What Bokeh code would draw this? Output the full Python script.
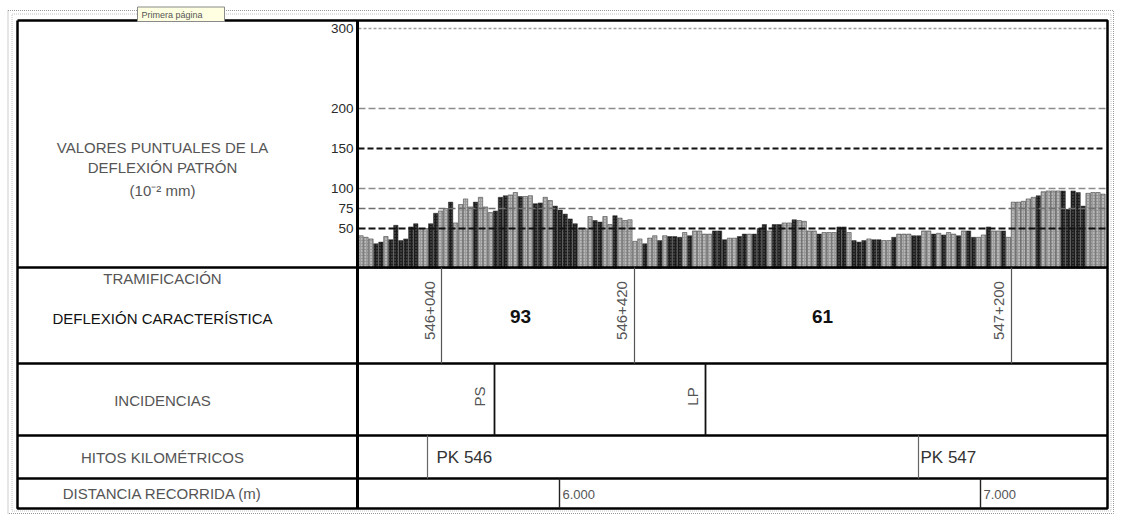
import math
from bokeh.plotting import figure
from bokeh.models import Range1d, ColumnDataSource
from bokeh.embed import file_html
from bokeh.resources import INLINE
from bokeh.core.properties import value

# ---------------- data ----------------
deflexion = [41, 39, 37, 31, 33, 40, 36, 54, 35, 37,
             52, 56, 50, 50, 56, 69, 72, 75, 83, 57,
             80, 87, 77, 83, 89, 77, 70, 72, 89, 91,
             92, 95, 90, 90, 91, 81, 82, 89, 85, 78,
             73, 68, 62, 56, 50, 50, 65, 60, 58, 65,
             55, 66, 63, 60, 61, 34, 37, 31, 38, 41,
             35, 41, 40, 40, 39, 45, 41, 47, 47, 43,
             43, 47, 47, 36, 38, 38, 40, 43, 43, 43,
             50, 55, 47, 55, 55, 57, 57, 61, 60, 59,
             47, 47, 43, 45, 45, 45, 52, 52, 45, 35,
             33, 35, 37, 36, 36, 35, 35, 39, 43, 43,
             43, 41, 41, 47, 47, 43, 44, 42, 45, 43,
             41, 47, 47, 39, 39, 42, 52, 47, 47, 47,
             39, 83, 83, 84, 87, 89, 91, 96, 97, 97,
             97, 97, 74, 97, 95, 78, 94, 95, 95, 93]
tipo = list("gggkkgkkkk"
            "kkggkkggkg"
            "gggkgggkkk"
            "ggkggkkggk"
            "kkkkgggkkg"
            "gkgggggkgg"
            "kgkkkgkggg"
            "gkkkggkkgk"
            "kkgkkggkgg"
            "ggkgggkkgk"
            "kkgkkggkgg"
            "gkkggkgkgg"
            "kgkkggkggk"
            "ggggggkggg"
            "gkkkkkgggg")

y_ticks = [50, 75, 100, 150, 200, 300]
y_tick_labels = ["50", "75", "100", "150", "200", "300"]

tramos = ["546+040", "546+420", "547+200"]
deflexion_caracteristica = ["93", "61"]
incidencias = ["PS", "LP"]
hitos = ["PK 546", "PK 547"]
distancias = ["6.000", "7.000"]

# ---------------- layout (page pixel coordinates) ----------------
W, H = 1120, 514
FONT = value("Liberation Sans")

p = figure(width=W, height=H, x_range=Range1d(0, W), y_range=Range1d(H, 0),
           output_backend="svg", toolbar_location=None, min_border=0)
p.axis.visible = False
p.grid.visible = False
p.outline_line_color = None
p.background_fill_color = "white"
p.border_fill_color = "white"

N = len(deflexion)
bar_left, bar_right = 358, 1105
s = (bar_right - bar_left) / N
p.extra_x_ranges = {"bars": Range1d(-0.5 - bar_left / s, -0.5 + (W - bar_left) / s)}
# deflection 0 -> y=268, 0.8 px per unit
y0_px, ppu = 268, 0.8
p.extra_y_ranges = {"defl": Range1d((y0_px - H) / ppu, y0_px / ppu)}

# bars
fill_map = {"g": "#9a9a9a", "k": "#1c1c1c"}
hatch_map = {"g": "#e2e2e2", "k": "#666666"}
src = ColumnDataSource(dict(
    x=list(range(N)), top=deflexion,
    fill=[fill_map[t] for t in tipo],
    hatch=[hatch_map[t] for t in tipo],
))
p.vbar(x="x", top="top", bottom=0, width=0.88, source=src,
       x_range_name="bars", y_range_name="defl",
       fill_color="fill", line_color="#333333", line_width=0.5,
       hatch_pattern="dot", hatch_color="hatch", hatch_scale=3, hatch_weight=1)

# grid lines on top of bars
grid_style = {
    300: ("#a0a0a0", "3 2", 1.5),
    200: ("#8c8c8c", "7 3", 1.6),
    150: ("#111111", "6 3", 1.8),
    100: ("#8c8c8c", "7 3", 1.6),
    75: ("#6e6e6e", "7 3", 1.6),
    50: ("#111111", "7 3", 1.8),
}
for t in y_ticks:
    c, d, w = grid_style[t]
    p.segment(x0=[-0.5], x1=[N - 0.5], y0=[t], y1=[t], x_range_name="bars",
              y_range_name="defl", line_color=c, line_dash=d, line_width=w)

p.text(x=[353] * len(y_ticks), y=y_ticks, text=y_tick_labels, y_range_name="defl",
       text_align="right", text_baseline="middle", text_font=FONT,
       text_font_size="13.5px", text_color="#2a2a2a")

# outer dotted borders
for (l, r, t_, b, c) in [(7.5, 1113, 10, 513, "#9a9a9a"), (11.5, 1110.5, 13.5, 510.5, "#c4c4c4")]:
    p.multi_line(xs=[[l, r, r, l, l]], ys=[[t_, t_, b, b, t_]], line_color=c,
                 line_dash="1 1", line_width=1)

# thick frame
L, R, T, B = 17, 1107, 20, 508
p.multi_line(xs=[[L, R, R, L, L]], ys=[[T, T, B, B, T]], line_color="black", line_width=2.5)
row_lines = [267, 363, 435, 478]
p.segment(x0=[L] * 4, x1=[R] * 4, y0=row_lines, y1=row_lines, line_color="black", line_width=2.5)
p.segment(x0=[357], x1=[357], y0=[T], y1=[B], line_color="black", line_width=3)

# inner dividers
p.segment(x0=[441, 634, 1011], x1=[441, 634, 1011], y0=[267] * 3, y1=[363] * 3,
          line_color="#555555", line_width=1.2)
p.segment(x0=[494, 705], x1=[494, 705], y0=[363] * 2, y1=[435] * 2,
          line_color="#111111", line_width=1.8)
p.segment(x0=[427, 918], x1=[427, 918], y0=[435] * 2, y1=[478] * 2,
          line_color="#666666", line_width=1.2)
p.segment(x0=[559, 980], x1=[559, 980], y0=[478] * 2, y1=[508] * 2,
          line_color="#222222", line_width=1.4)

# left labels
lab_x = 162
p.text(x=[lab_x] * 3, y=[147, 167, 190],
       text=["VALORES PUNTUALES DE LA", "DEFLEXIÓN PATRÓN", "(10⁻² mm)"],
       text_align="center", text_baseline="middle", text_font=FONT,
       text_font_size="15px", text_color="#555555")
p.text(x=[lab_x], y=[278], text=["TRAMIFICACIÓN"], text_align="center",
       text_baseline="middle", text_font=FONT, text_font_size="15px", text_color="#555555")
p.text(x=[lab_x], y=[318], text=["DEFLEXIÓN CARACTERÍSTICA"], text_align="center",
       text_baseline="middle", text_font=FONT, text_font_size="15px", text_color="#111111")
p.text(x=[lab_x] * 3, y=[400, 457, 493],
       text=["INCIDENCIAS", "HITOS KILOMÉTRICOS", "DISTANCIA RECORRIDA (m)"],
       text_align="center", text_baseline="middle", text_font=FONT,
       text_font_size="15px", text_color="#555555")

# tramificación
p.text(x=[429, 621, 998], y=[310] * 3, text=tramos, angle=math.pi / 2,
       text_align="center", text_baseline="middle", text_font=FONT,
       text_font_size="15px", text_color="#555555")
p.text(x=[520, 822], y=[316] * 2, text=deflexion_caracteristica, text_align="center",
       text_baseline="middle", text_font=FONT, text_font_size="19px",
       text_font_style="bold", text_color="#111111")

# incidencias
p.text(x=[479, 692], y=[396] * 2, text=incidencias, angle=math.pi / 2,
       text_align="center", text_baseline="middle", text_font=FONT,
       text_font_size="15px", text_color="#555555")

# hitos
p.text(x=[436, 920], y=[457] * 2, text=hitos, text_align="left",
       text_baseline="middle", text_font=FONT, text_font_size="17px", text_color="#333333")

# distancia
p.text(x=[562, 983], y=[494] * 2, text=distancias, text_align="left",
       text_baseline="middle", text_font=FONT, text_font_size="13px", text_color="#555555")

# tooltip box
p.quad(left=[137], right=[224], top=[6.5], bottom=[21], fill_color="#ffffe1",
       line_color="#8a8a8a", line_width=1)
p.text(x=[141], y=[14], text=["Primera página"], text_align="left", text_baseline="middle",
       text_font=FONT, text_font_size="9px", text_color="#555555")

open("out.html", "w").write(file_html(p, INLINE))
